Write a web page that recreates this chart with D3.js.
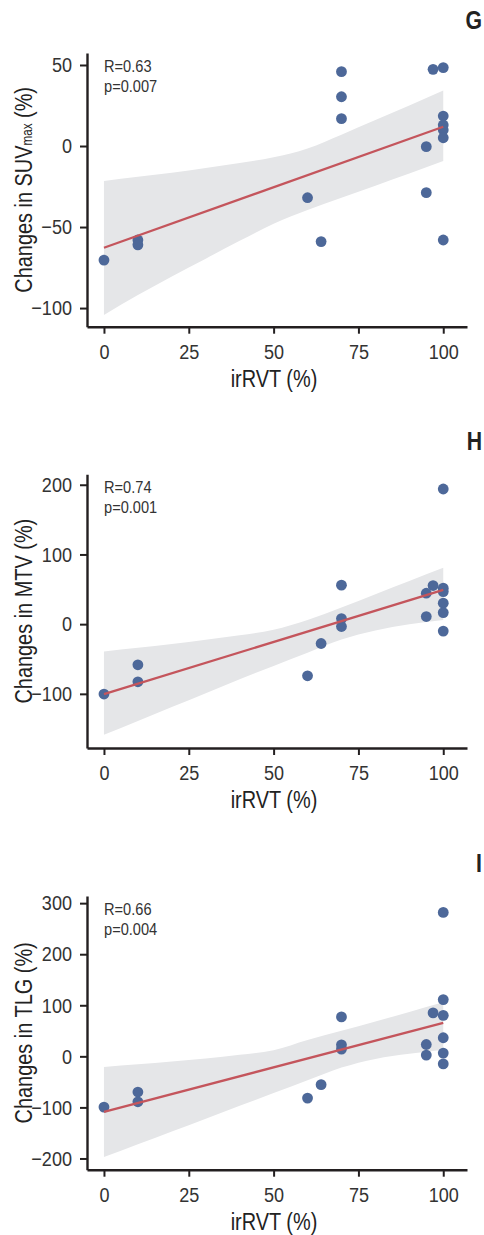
<!DOCTYPE html>
<html>
<head>
<meta charset="utf-8">
<script src="https://cdn.jsdelivr.net/npm/d3@7"></script>
<style>
body { margin: 0; background: #fff; }
text { font-family: 'Liberation Sans', Arial, sans-serif; }
</style>
</head>
<body>
<svg id="chart" width="484" height="1235"></svg>
<script>
// irRVT (%) for each patient, same order in every panel
var irRVT = [0, 10, 10, 60, 64, 70, 70, 70, 95, 95, 97, 100, 100, 100, 100, 100, 100]

// changes (%)
var suvChange = [-70.4, -58, -61, -31.9, -59, 45.9, 30.4, 16.9, -0.4, -28.8, 47.3, 48.4, 18.5, 13, 9.9, 5.1, -58]
var mtvChange = [-100.3, -58.3, -82.7, -74.1, -27.8, 55.9, 8.0, -3.4, 44.4, 10.9, 55.4, 193.9, 51.6, 46.7, 30.1, 16.6, -10]
var tlgChange = [-99.4, -69.9, -89, -81.7, -55.5, 77.2, 22.6, 14.2, 23.2, 2.4, 85, 281.9, 111.2, 80.3, 36.4, 6.3, -14.8]

// fitted line ends (at irRVT 0 and 100)
var fitX = [0, 100]
var suvFit = [-62.8, 11.9]
var mtvFit = [-100.3, 49.2]
var tlgFit = [-108.6, 65.4]

// confidence band, read at these irRVT values
var bandX = [0, 10, 20, 30, 40, 50, 60, 70, 80, 90, 100]
var suvUpper = [-21.6, -19, -16.5, -13.5, -10.5, -7, -1.5, 7, 16, 25, 34.2]
var suvLower = [-104.3, -92, -80.5, -69.5, -58.5, -48, -39.5, -32, -24.5, -17, -9.3]
var mtvUpper = [-39.3, -34, -28.5, -22.5, -16, -8, 6, 24, 43, 62, 81]
var mtvLower = [-158.7, -139, -119, -99, -79, -60, -41, -22, -9, 0, 6]
var tlgUpper = [-20.7, -15.5, -10, -4, 3, 12, 32, 50, 68, 87, 106]
var tlgLower = [-197.2, -172, -147, -122, -97, -72, -47, -22, -5, 5, 13]

var xTicks = [0, 25, 50, 75, 100]
var suvTicks = [-100, -50, 0, 50]
var mtvTicks = [-100, 0, 100, 200]
var tlgTicks = [-200, -100, 0, 100, 200, 300]

var panels = [
    {letter: "G", label: ["Changes in SUV", "max", " (%)"], y: suvChange, fit: suvFit, up: suvUpper, lo: suvLower,
     ticks: suvTicks, domain: [-111.5, 57.4], top: 53, stats: ["R=0.63", "p=0.007"]},
    {letter: "H", label: ["Changes in MTV (%)"], y: mtvChange, fit: mtvFit, up: mtvUpper, lo: mtvLower,
     ticks: mtvTicks, domain: [-177.7, 215], top: 474.3, stats: ["R=0.74", "p=0.001"]},
    {letter: "I", label: ["Changes in TLG (%)"], y: tlgChange, fit: tlgFit, up: tlgUpper, lo: tlgLower,
     ticks: tlgTicks, domain: [-222, 314], top: 896, stats: ["R=0.66", "p=0.004"]}
]

var left = 87, right = 467, plotH = 273.7
var ink = "#231f20"

var svg = d3.select("#chart")
svg.append("rect").attr("width", 484).attr("height", 1235).attr("fill", "#fff")

var x = d3.scaleLinear().domain([-5, 107]).range([left, right])

// narrow text the way a condensed face would look
function narrowText(parent, tx, ty, k, extra) {
    return parent.append("text")
        .attr("transform", "translate(" + tx + "," + ty + ")" + (extra || "") + " scale(" + k + ",1)")
}

panels.forEach(function (p) {
    var y = d3.scaleLinear().domain(p.domain).range([plotH, 0])
    var g = svg.append("g").attr("transform", "translate(0," + p.top + ")")

    // band
    var area = d3.area()
        .x(function (d, i) { return x(bandX[i]) })
        .y0(function (d, i) { return y(p.lo[i]) })
        .y1(function (d) { return y(d) })
        .curve(d3.curveMonotoneX)
    g.append("path").datum(p.up).attr("d", area).attr("fill", "#e5e6e8")

    // points
    g.selectAll("circle").data(p.y).enter()
        .append("circle")
        .attr("cx", function (d, i) { return x(irRVT[i]) })
        .attr("cy", function (d) { return y(d) })
        .attr("r", 5.4)
        .attr("fill", "#4d6899")

    // fit line
    var line = d3.line()
        .x(function (d, i) { return x(fitX[i]) })
        .y(function (d) { return y(d) })
    g.append("path").datum(p.fit).attr("d", line)
        .attr("fill", "none").attr("stroke", "#c4555c").attr("stroke-width", 2.3)

    // axes
    var yAxis = g.append("g").attr("transform", "translate(" + left + ",0)")
        .call(d3.axisLeft(y).tickValues(p.ticks).tickSize(7).tickSizeOuter(0).tickPadding(8))
    var xAxis = g.append("g").attr("transform", "translate(0," + plotH + ")")
        .call(d3.axisBottom(x).tickValues(xTicks).tickSize(7).tickSizeOuter(0).tickPadding(10))
    ;[yAxis, xAxis].forEach(function (a) {
        a.attr("font-family", null).attr("font-size", 21)
        a.select(".domain").attr("stroke", ink).attr("stroke-width", 2.4)
        a.selectAll(".tick line").attr("stroke", ink).attr("stroke-width", 2)
        a.selectAll(".tick text").attr("fill", "#333").each(function () {
            var t = d3.select(this)
            var x0 = +t.attr("x") || 0
            t.attr("x", x0 / 0.86).attr("transform", "scale(0.86,1)")
        })
    })

    // axis titles
    narrowText(g, 274, plotH + 60, 0.83)
        .attr("text-anchor", "middle").attr("font-size", 24).attr("fill", "#222")
        .text("irRVT (%)")
    var yt = narrowText(g, 32, plotH / 2, 0.83, " rotate(-90)")
        .attr("text-anchor", "middle").attr("font-size", 24).attr("fill", "#222")
    p.label.forEach(function (s, i) {
        yt.append("tspan").attr("font-size", i == 1 ? 14 : null).text(s)
    })

    // stats
    p.stats.forEach(function (s, i) {
        narrowText(g, 104, 18.7 + i * 20, 0.86)
            .attr("font-size", 17).attr("fill", "#333").text(s)
    })

    // panel letter
    narrowText(g, 482, -24, 0.85)
        .attr("text-anchor", "end").attr("font-size", 25).attr("font-weight", "bold").attr("fill", "#222")
        .text(p.letter)
})
</script>
</body>
</html>
